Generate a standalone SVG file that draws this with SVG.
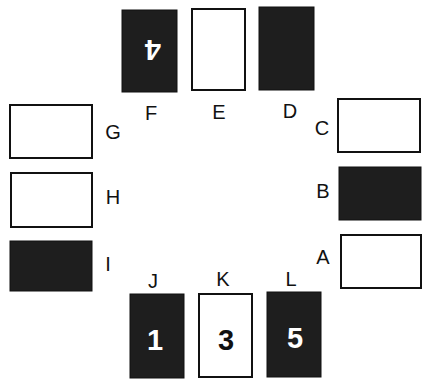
<svg xmlns="http://www.w3.org/2000/svg" width="424" height="380" viewBox="0 0 424 380">
<style>
.w{fill:#fff;stroke:#111;stroke-width:2}
.d{fill:#1e1e1e;stroke:#111;stroke-width:1}
.lb{font-family:"Liberation Sans",Arial,sans-serif;font-size:20px;fill:#111;text-anchor:middle}
.n{font-family:"Liberation Sans",Arial,sans-serif;font-size:29px;font-weight:bold;fill:#fff;text-anchor:middle}
</style>
<rect width="424" height="380" fill="#fff"/>
<g id="F"><rect class="d" x="122" y="10" width="55" height="82"/><text class="n" transform="translate(153,40) rotate(180)">4</text><text class="lb" x="151" y="120">F</text></g>
<g id="E"><rect class="w" x="192" y="9" width="53" height="81"/><text class="lb" x="219" y="119">E</text></g>
<g id="D"><rect class="d" x="259" y="7" width="55" height="83"/><text class="lb" x="290" y="118">D</text></g>
<g id="G"><rect class="w" x="10" y="105" width="82" height="53"/><text class="lb" x="113" y="139">G</text></g>
<g id="H"><rect class="w" x="11" y="173" width="81" height="54"/><text class="lb" x="113" y="204">H</text></g>
<g id="I"><rect class="d" x="10" y="241" width="82" height="50"/><text class="lb" x="108" y="271">I</text></g>
<g id="C"><rect class="w" x="338" y="99" width="82" height="53"/><text class="lb" x="322" y="135">C</text></g>
<g id="B"><rect class="d" x="339" y="167" width="82" height="53"/><text class="lb" x="323" y="198">B</text></g>
<g id="A"><rect class="w" x="341" y="235" width="80" height="53"/><text class="lb" x="323" y="264">A</text></g>
<g id="J"><rect class="d" x="130" y="294" width="54" height="84"/><text class="n" x="155" y="350">1</text><text class="lb" x="153" y="288">J</text></g>
<g id="K"><rect class="w" x="199" y="294" width="53" height="83"/><text class="n" x="226" y="350" style="fill:#111">3</text><text class="lb" x="223" y="286">K</text></g>
<g id="L"><rect class="d" x="267" y="292" width="54" height="85"/><text class="n" x="295" y="348">5</text><text class="lb" x="291" y="286">L</text></g>
<g id="connectors"></g>
</svg>
